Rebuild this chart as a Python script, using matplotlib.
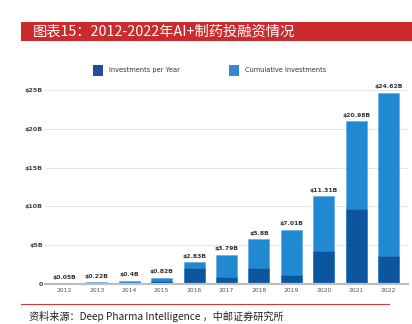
import matplotlib
matplotlib.use("Agg")

import matplotlib.pyplot as plt
import matplotlib.patches as mpatches
import numpy as np

plt.rcParams["font.family"] = ["Noto Sans CJK SC", "DejaVu Sans"]

# ---------------- data ----------------
years = ["2012", "2013", "2014", "2015", "2016", "2017",
         "2018", "2019", "2020", "2021", "2022"]
per_year = [0.05, 0.17, 0.18, 0.42, 2.01, 0.96, 2.01, 1.21, 4.30, 9.67, 3.64]
cumulative = [0.05, 0.22, 0.40, 0.82, 2.83, 3.79, 5.80, 7.01, 11.31, 20.98, 24.62]
cum_labels = ["$0.05B", "$0.22B", "$0.4B", "$0.82B", "$2.83B", "$3.79B",
              "$5.8B", "$7.01B", "$11.31B", "$20.98B", "$24.62B"]
y_ticks = [0, 5, 10, 15, 20, 25]
y_tick_labels = ["0", "$5B", "$10B", "$15B", "$20B", "$25B"]

dark_blue = "#0b569e"
light_blue = "#2189d1"

fig = plt.figure(figsize=(4.12, 3.24), dpi=100, facecolor="white")

# ---------------- title bar ----------------
fig.patches.append(mpatches.Rectangle((21 / 412, 1 - 41 / 324), 391 / 412, 19 / 324,
                                      transform=fig.transFigure,
                                      facecolor="#cc2b2e", edgecolor="none"))
fig.text(33 / 412, 1 - 31.5 / 324, "图表15：2012-2022年AI+制药投融资情况",
         color="white", fontsize=10.3, va="center", ha="left")

# ---------------- bars ----------------
ax = fig.add_axes([45 / 412, 40 / 324, 363 / 412, 194 / 324])
x = np.arange(len(years))
ax.bar(x, cumulative, width=0.65, color=light_blue, edgecolor="#5aa8e0",
       linewidth=0.4, zorder=2)
ax.bar(x, per_year, width=0.65, color=dark_blue, edgecolor="#3d7fc0",
       linewidth=0.4, zorder=3)

for xi, val, lab in zip(x, cumulative, cum_labels):
    ax.text(xi, val + 0.45, lab, ha="center", va="bottom", fontsize=4.4,
            color="#333333", fontweight="bold", family="DejaVu Sans")

ax.set_xlim(-0.6, 10.6)
ax.set_ylim(0, 25)
ax.set_xticks(x)
ax.set_xticklabels(years, fontsize=4.3, color="#555555", family="DejaVu Sans")
ax.set_yticks(y_ticks)
ax.set_yticklabels(y_tick_labels, fontsize=4.6, color="#444444",
                   fontweight="bold", family="DejaVu Sans")
ax.tick_params(axis="x", length=0, pad=3)
ax.tick_params(axis="y", length=0, pad=1.5)
ax.grid(axis="y", color="#e6e6e6", linewidth=0.8, zorder=0)
for s in ["top", "right", "left"]:
    ax.spines[s].set_visible(False)
ax.spines["bottom"].set_color("#bdbdbd")
ax.spines["bottom"].set_linewidth(1.6)
ax.spines["bottom"].set_zorder(4)

# ---------------- legend ----------------
fig.patches.append(mpatches.Rectangle((93 / 412, 1 - 76 / 324), 10 / 412, 11 / 324,
                                      transform=fig.transFigure,
                                      facecolor="#1f4f97", edgecolor="none"))
fig.text(109 / 412, 1 - 70 / 324, "Investments per Year", fontsize=4.8,
         color="#333333", va="center", family="DejaVu Sans")
fig.patches.append(mpatches.Rectangle((229 / 412, 1 - 76 / 324), 10 / 412, 11 / 324,
                                      transform=fig.transFigure,
                                      facecolor="#3a87cf", edgecolor="none"))
fig.text(245 / 412, 1 - 70 / 324, "Cumulative Investments", fontsize=4.8,
         color="#333333", va="center", family="DejaVu Sans")

# ---------------- footer ----------------
fig.add_artist(plt.Line2D([21 / 412, 389 / 412], [1 - 303.5 / 324, 1 - 303.5 / 324],
                          transform=fig.transFigure, color="#cc3b3b", linewidth=0.8))
fig.text(29 / 412, 1 - 316.5 / 324, "资料来源：Deep Pharma Intelligence ，中邮证券研究所",
         fontsize=7.3, color="#222222", va="center", ha="left")

plt.savefig("out.png", dpi=100)
